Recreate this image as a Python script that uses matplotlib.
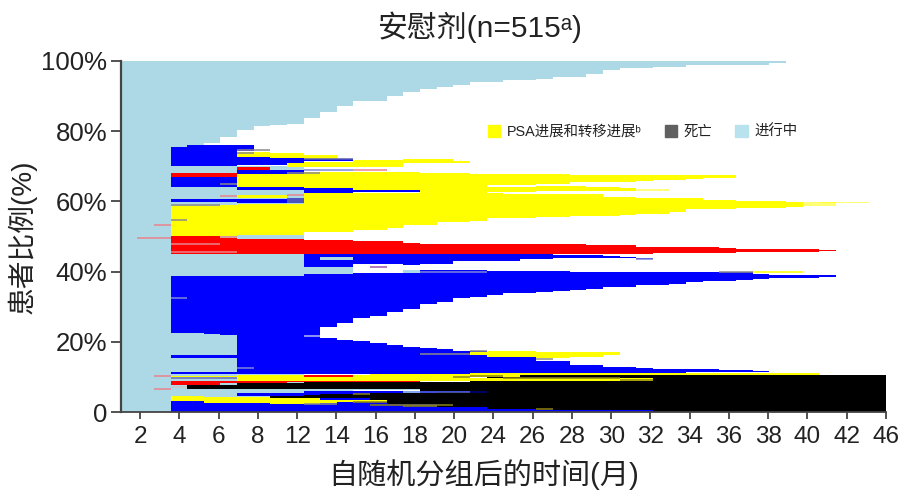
import numpy as np
import matplotlib
matplotlib.use("Agg")
from matplotlib import pyplot as plt
from matplotlib.patches import Patch

plt.rcParams['font.family'] = ['Liberation Sans', 'Noto Sans CJK SC', 'DejaVu Sans']

BLUE = '#0000ff'
YELLOW = '#ffff00'
RED = '#ff0000'
BLACK = '#000000'
LIGHT = '#add8e6'
PINK = '#e8848c'
GRAY = '#8a8a8a'
LAV = '#7f86d8'
GOLD = '#8c8414'

tick_labels = ['2', '4', '6', '8', '12', '14', '16', '18', '20', '24', '26', '28',
               '30', '32', '34', '36', '38', '40', '42', '46']
y_ticks = [0, 20, 40, 60, 80, 100]
y_labels = ['0', '20%', '40%', '60%', '80%', '100%']

# everything below is percent of patients per treatment cycle
ongoing_edge = [75.8, 75.8, 76.7, 78.3, 80.2, 81.6, 81.8, 82, 83.8, 85.6, 87.2, 88.6, 88.6,
                90, 91.3, 92, 92.5, 93.2, 93.9, 93.9, 94.6, 94.6, 94.9, 95.5, 95.5, 96.3,
                97.4, 98.1, 98.1, 98.4, 98.4, 98.9, 98.9, 99, 99, 99, 99.5]
ongoing_fill = [76, 76, 76, 76, 70, 70, 70, 70]

lobe_hi = [38.75, 38.75, 38.75, 38.75, 38.75, 38.75, 38.75, 38.75, 39.3, 39.3, 39.3, 39.7, 39.7,
           39.7, 40.4, 40.4, 40.4, 40.4, 40.4, 40.2, 40.2, 40.2, 40.2, 40.2, 40, 40, 40, 40,
           39.8, 39.8, 39.8, 39.8, 39.8, 39.8, 39.8, 39.3, 39.1, 39.1, 39.1, 39.0]
lobe_lo = [22.4, 22.4, 22.2, 21.8, 10.8, 10.8, 10.8, 10.8, 10.8, 24.1, 25.3, 26.7, 27.4, 28.6,
           29.4, 30.7, 31.4, 32.4, 32.9, 33.3, 33.8, 34, 34.3, 34.6, 34.8, 35, 35.5, 35.7, 36.1,
           36.3, 36.5, 36.9, 37.2, 37.4, 37.5, 37.8, 38.2, 38.2, 38.2, 38.6]
lower_lobe_hi = [21.2, 20.5, 20.3, 19.6, 19.1, 18.6, 18.1, 17.9, 17.4, 17.4, 15.6, 15.6, 15.6, 14.4,
                 14.4, 13.4, 13.4, 12.9, 12.7, 12.4, 12.2, 12.2, 12.35, 12.35, 12, 12, 11.8]
lower_lobe_lo = [10.8, 10.8, 10.8, 10.8, 10.8, 10.8, 10.8, 10.8, 10.8, 10.9, 10.9, 10.9, 10.9, 11.2,
                 11.2, 11.2, 11.2, 11.2, 11.2, 11.2, 11.2, 11.2, 11.4, 11.4, 11.4, 11.4, 11.4]

red_hi = [50.1, 50.1, 50.1, 49.6, 49.2, 49.2, 49.2, 49.2, 49, 49, 49, 48.7, 48.7, 48.7, 48.2,
          48, 48, 48, 48, 48, 47.8, 47.8, 47.8, 47.8, 47.8, 47.6, 47.6, 47.6, 47.1, 47, 47, 47, 47,
          46.6, 46.4, 46.4, 46.4, 46.3, 46.3, 46.2]
red_lo = [45.1, 45.1, 45.1, 45.1, 45.1, 45.1, 45.1, 45.1, 45.1, 45.1, 45.1, 45.1, 45.1, 45.1, 45.1,
          45.1, 45.1, 45.1, 45.1, 45.1, 45.1, 45.1, 45.1, 45.1, 45.1, 45.1, 45.1, 45.1, 45.1,
          45.2, 45.2, 45.2, 45.2, 45.2, 45.5, 45.5, 45.5, 45.7, 45.7, 45.8]

yellow_main_hi = [58.7, 58.7, 58.7, 59, 59.3, 59.3, 59.3, 59.3, 62.3, 62.3, 62.3, 62.3, 62.3, 62.3,
                  62.3, 62.3, 62.3, 62.3, 62.3, 62.3, 62, 62, 62, 62, 62, 62, 61.2, 61.2, 60.9,
                  60.9, 60.9, 60.9, 60.4, 60.4, 60.1, 60.1, 60.1, 59.7]
yellow_main_lo = [50.1, 50.1, 50.1, 50.1, 50.4, 50.4, 50.4, 50.4, 51.4, 51.4, 51.4, 51.9, 51.9, 52.3,
                  53.3, 53.3, 54, 54, 54.5, 55.2, 55.2, 55.2, 55.5, 55.5, 55.8, 55.8, 55.9, 56.1,
                  56.4, 56.4, 57.1, 57.7, 57.7, 57.7, 58.2, 58.2, 58.2, 58.5]
yellow_up_hi = [67.8, 67.8, 67.8, 67.8, 68.5, 68.5, 68.5, 68.5, 68.5, 68.5, 68.5, 68.2, 68, 68,
                67.8, 67.8, 67.8, 67.8, 67.8, 67.8, 67.5, 67.5, 67.5, 67.5, 67.5, 67.5, 67.5,
                67.5, 67.5, 67.5]
yellow_up_lo = [64.2, 64.2, 64.2, 64.2, 63.7, 63.7, 63.7, 63.2, 63.2, 63.2, 63.2, 62.3, 62.3, 62.3,
                62.3, 64.7, 64.7, 64.7, 65, 65, 65.4, 65.4, 65.6, 65.6, 65.9, 66.1, 66.1, 66.3,
                66.6, 66.6]
yellow_mid_hi = [64.2, 64.2, 64.2, 64.4, 64.4, 64.4, 64, 64, 63.7]
yellow_mid_lo = [62.8, 62.8, 62.8, 63, 63, 63, 63, 63, 63]
yellow_a_hi = [74, 74, 73.7, 73.7, 73.2, 73.2]
yellow_a_lo = [72.7, 72.7, 72.3, 72.3, 71.9, 71.9]
yellow_b_hi = [70.8, 71.2, 71.2, 71.2, 71.8, 71.8, 71.8, 72, 72, 72, 71.6]
yellow_b_lo = [69.9, 69.9, 69.9, 69.9, 69.9, 69.9, 69.9, 70.8, 70.8, 70.8, 71]
yellow_low_hi = [17, 17.4, 17.4, 17.4, 17.1, 17.1, 17, 17, 17.2]
yellow_low_lo = [16.2, 15.6, 15.6, 15.6, 15.4, 15.4, 15.6, 15.6, 16.2]
yellow_strip_hi = [10.5, 10.5, 10.5, 10.5, 10, 10, 10, 10.5, 10.7, 10.7, 10.7, 10.7, 10.7, 10.7,
                   11, 11, 11, 11, 11, 11, 11.2, 11.2, 11.2, 11.2, 11.2, 11.2, 11.2,
                   11.1, 11.1, 11.1, 11.1, 11.1, 11.1, 11.1, 11.1]
yellow_strip_lo = [8.8, 8.8, 8.8, 8.8, 8.8, 8.8, 8.8, 8.8, 8.8, 8.8, 8.8, 8.8, 8.8, 8.8,
                   10, 10, 10, 10.6, 10.6, 10.6, 10.6, 10.6, 10.6, 10.6, 10.6, 10.6, 10.6,
                   10.6, 10.6, 10.6, 10.6, 10.6, 10.6, 10.6, 10.6]
yellow_diag_hi = [4.56, 4.56, 4.37, 4.37, 4.37, 4.37, 3.9, 3.9, 3.9, 3.4, 3.4, 3.4, 3.4]
yellow_diag_lo = [3.23, 3.23, 2.66, 2.66, 2.66, 2.47, 2.28, 2.19, 2.19, 2.47, 2.76, 2.76, 2.76]

blue_a_hi = [75.6, 76, 76, 76, 76]
blue_a_lo = [70.1, 70.1, 70.1, 70.1, 74.4]
blue_b_hi = [72.7, 72.7, 72.3, 72.3]
blue_b_lo = [70.4, 70.4, 70.5, 70.8]
blue_d_hi = [64.2, 64.2, 64.2, 64.2, 63.7, 63.7, 63.7, 63.2, 63.2, 63.2, 63.2]
blue_d_lo = [63.2, 63.2, 63.2, 63.2, 62.3, 62.3, 62.3, 62.6, 62.6, 62.6, 62.6]
blue_upper_hi = [45, 45, 45, 45, 45, 45, 45, 45, 45, 45, 45, 45, 45, 45, 45, 44.8, 44.8, 44.8, 44.4,
                 44.2, 44]
blue_upper_lo = [41.2, 41.2, 41.2, 42.1, 42.1, 42.1, 42, 42.3, 42.3, 43, 43, 43, 43, 43.5, 43.5,
                 43.8, 43.8, 43.8, 43.8, 43.8, 43.5]
blue_bottom_hi = [3.2, 3.2, 2.7, 2.7, 2.7, 2.5, 2.3, 2.2, 6, 6, 6, 6, 6, 6, 6, 6, 6, 6, 6,
                  1, 1, 1, 0.6, 0.6, 0.6, 0.6, 0.6, 0.6, 0.6]

black_a_hi = [7.7, 7.7, 7.7, 8.2, 8.2, 8.2, 8.2, 8.5, 8.5, 8.5, 8.5, 8.5, 8.5, 8.5, 8.5, 8.5, 8.5, 8.9]
black_a_lo = [6.5, 6.5, 6.5, 6.5, 6.5, 6.5, 6.5, 6.5, 6.5, 6.5, 6.5, 6.5, 6.5, 6.5, 6, 6, 6, 5.6]
black_b_hi = [4.6, 4.6, 4.9, 5, 5, 5, 5.3, 5.3, 5.3, 5.3, 5.8, 5.8, 5.8]
black_b_lo = [3.9, 3.9, 4, 4.1, 4.1, 4.1, 3, 2.2, 2.2, 2.2, 1.5, 1.5, 1.5]
black_main_hi = [10, 10, 10.6, 10.6, 10.6, 10.6, 10.6, 10.6, 10.6, 10.6, 10.5, 10.5, 10.5, 10.5,
                 10.5, 10.5, 10.5, 10.5, 10.5, 10.5, 10.5, 10.5, 10.5, 10.5]
black_main_lo = [0.9, 0.9, 0.9, 0.6, 0.6, 0.6, 0.6, 0.6, 0.6, 0.6, 0, 0, 0, 0, 0, 0, 0, 0, 0, 0,
                 0, 0, 0, 0]

# (start cycle, highs, lows, colour, alpha) for the short blocks and tails
small_bands = [
    (0, [68, 68, 68, 68], [66.9, 66.9, 66.9, 66.9], RED, 1),
    (0, [66.9, 66.9, 66.9, 66.9], [64.2, 64.2, 64.2, 64.2], BLUE, 1),
    (4, [69.7, 69.7], [68.9, 68.9], RED, 1),
    (4, [68.9, 68.9, 68.9, 68.9], [67.8, 67.8, 67.8, 67.8], BLUE, 1),
    (8, [72, 72, 72], [71.4, 71.4, 71.4], BLUE, 1),
    (4, [61.8, 61.8, 61.8], [60.9, 60.9, 60.9], YELLOW, 1),
    (4, [60.6, 60.6, 60.6], [59.5, 59.5, 59.5], BLUE, 1),
    (7, [60.9], [59.5], '#4a55c0', 1),
    (0, [60.6, 60.6, 60.6, 60.6], [59.7, 59.7, 59.7, 59.7], BLUE, 1),
    (38, [59.7, 59.7], [58.7, 58.7], YELLOW, 0.55),
    (39, [59.9, 59.9, 59.9], [59.6, 59.6, 59.6], YELLOW, 0.55),
    (28, [63.4, 63.4], [63, 63], YELLOW, 0.5),
    (8, [41.2, 41.2, 41.2], [39.3, 39.3, 39.3], LIGHT, 1),
    (9, [44.2, 44.2], [43.4, 43.4], LIGHT, 1),
    (14, [40.4], [39.7], LIGHT, 1),
    (0, [16.2, 16.2, 16.2, 16.2], [15.5, 15.5, 15.5, 15.5], BLUE, 1),
    (0, [11.3, 11.3, 11.3, 11.3], [10.7, 10.7, 10.7, 10.7], BLUE, 1),
    (0, [10.3, 10.3, 10.3, 10.3], [9.9, 9.9, 9.9, 9.9], YELLOW, 1),
    (0, [8.8, 8.8, 8.8, 8.7], [7.7, 7.7, 7.7, 8.2], RED, 1),
    (4, [8.8, 8.8, 8.8, 8.8, 8.8, 8.8, 8.8, 8.8, 8.8, 8.8, 8.8],
        [8.2, 8.2, 8.2, 8.5, 8.5, 8.5, 8.5, 8.5, 8.5, 8.5, 8.5], RED, 1),
    (8, [10.5, 10.5, 10.5], [10, 10, 10], RED, 1),
    (4, [5.5, 5.5, 5.5, 5.5], [4.6, 4.6, 4.6, 4.6], BLUE, 1),
    (8, [6.5, 6.5, 6.5, 6.5, 6.5, 6.5, 6.5], [6, 6, 6, 6.2, 6.2, 6.2, 6.2], LIGHT, 1),
    (18, [9.7, 9.7, 9.7, 9.7, 9.7, 9.7, 9.7, 9.7, 9.7, 9.7, 9.7],
         [8.9, 8.9, 8.9, 8.9, 8.9, 8.9, 8.9, 8.9, 8.9, 8.9, 8.9], YELLOW, 1),
]

# thin single patient rows: (y, from cycle, to cycle, colour)
thin_rows = [
    (53.4, -1, 0, PINK), (49.7, -2, 0, PINK), (10.2, -1, 0, PINK), (6.6, -1, 0, PINK),
    (49.8, 3, 4, PINK), (47.8, 0, 3, PINK), (45.5, 0, 4, PINK), (61.6, 3, 4, PINK),
    (61.8, 7, 8, PINK), (68.9, 11, 13, PINK), (41.2, 12, 13, '#a050b0'),
    (74.6, 4, 6, GRAY), (73.9, 4, 5, GRAY), (64.9, 3, 4, GRAY), (54.6, 0, 1, GRAY),
    (59, 0, 3, GRAY), (68.2, 7, 9, GRAY), (68.9, 8, 11, LAV), (72, 8, 11, '#5a5fb0'),
    (32.4, 0, 1, LAV), (21.7, 8, 9, '#b8b8f0'), (12.5, 4, 5, LAV), (9.6, 0, 4, '#6a6fb0'),
    (7.2, 0, 1, '#c8c8c8'), (16.5, 15, 18, GRAY), (17.5, 18, 19, GRAY), (15, 22, 23, GRAY),
    (39.9, 15, 19, LAV), (43.7, 28, 29, LAV), (39.9, 33, 35, GRAY), (40.0, 35, 38, YELLOW),
    (5.8, 14, 15, LIGHT), (5.8, 15, 18, '#5566cc'), (5.7, 18, 19, '#000080'),
    (2, 12, 17, GOLD), (2.9, 11, 13, GOLD), (5.1, 11, 12, GOLD), (2.2, 8, 10, GRAY),
    (9.9, 17, 18, GOLD), (10.3, 18, 20, GOLD), (9.6, 20, 27, GOLD), (9.1, 27, 29, GOLD),
    (1.7, 14, 16, GOLD), (0.9, 22, 23, GOLD),
]


def band(start, lo, hi, color, alpha=1):
    x = np.arange(start, start + len(lo) + 1)
    ax.fill_between(x, lo + [lo[-1]], hi + [hi[-1]], step='post', color=color,
                    linewidth=0, alpha=alpha)


fig = plt.figure(figsize=(9.07, 4.95), dpi=100)
ax = fig.add_axes([121 / 907, 83 / 495, 765 / 907, 351 / 495])

# ongoing patients first, the rest is painted over them
ax.axvspan(-3, 0, color=LIGHT, linewidth=0)
band(0, ongoing_edge, [100] * len(ongoing_edge), LIGHT)
band(0, [0] * len(ongoing_fill), ongoing_fill, LIGHT)

band(0, lobe_lo, lobe_hi, BLUE)
band(9, lower_lobe_lo, lower_lobe_hi, BLUE)
band(8, blue_upper_lo, blue_upper_hi, BLUE)
band(0, [0] * len(blue_bottom_hi), blue_bottom_hi, BLUE)
band(0, blue_a_lo, blue_a_hi, BLUE)
band(4, blue_b_lo, blue_b_hi, BLUE)
band(19, black_main_lo, black_main_hi, BLACK)
band(1, black_a_lo, black_a_hi, BLACK)
band(6, black_b_lo, black_b_hi, BLACK)

band(0, yellow_main_lo, yellow_main_hi, YELLOW)
band(4, yellow_up_lo, yellow_up_hi, YELLOW)
band(19, yellow_mid_lo, yellow_mid_hi, YELLOW)
band(4, yellow_a_lo, yellow_a_hi, YELLOW)
band(7, yellow_b_lo, yellow_b_hi, YELLOW)
band(18, yellow_low_lo, yellow_low_hi, YELLOW)
band(4, yellow_strip_lo, yellow_strip_hi, YELLOW)
band(0, yellow_diag_lo, yellow_diag_hi, YELLOW)
band(0, red_lo, red_hi, RED)
band(4, blue_d_lo, blue_d_hi, BLUE)

for start, hi, lo, color, alpha in small_bands:
    band(start, lo, hi, color, alpha)

for y, x0, x1, color in thin_rows:
    ax.plot([x0, x1], [y, y], color=color, linewidth=1.1, solid_capstyle='butt')

ax.set_xlim(-2.98, 43.02)
ax.set_ylim(0, 100)
ax.set_xticks(np.linspace(-1.83, 43.02, len(tick_labels)))
ax.set_xticklabels(tick_labels, fontsize=17.5, color='#222222')
ax.set_yticks(y_ticks)
ax.set_yticklabels(y_labels, fontsize=18.5, color='#222222')
ax.tick_params(axis='x', length=5, width=1.3, color='#444444', pad=5)
ax.tick_params(axis='y', length=7, width=1.3, color='#444444', pad=3)
ax.spines['top'].set_visible(False)
ax.spines['right'].set_visible(False)
ax.spines['left'].set_linewidth(1.6)
ax.spines['left'].set_color('#444444')
ax.spines['bottom'].set_linewidth(1.3)
ax.spines['bottom'].set_color('#444444')

handles = [Patch(color=YELLOW), Patch(color='#606060'), Patch(color='#b8e2ee')]
names = ['PSA进展和转移进展ᵇ', '死亡', '进行中']
fig.legend(handles, names, ncol=3, frameon=False, fontsize=10.4, loc='center left',
           bbox_to_anchor=(475 / 907, 1 - 132 / 495), handlelength=0.85, handleheight=0.85,
           handletextpad=0.45, columnspacing=1.6, labelcolor='#222222')

fig.text(480 / 907, 1 - 27 / 495, '安慰剂(n=515ᵃ)', fontsize=21.5, ha='center', va='center',
         color='#222222')
fig.text(484 / 907, 1 - 475 / 495, '自随机分组后的时间(月)', fontsize=21, ha='center', va='center',
         color='#222222')
fig.text(22 / 907, 1 - 237 / 495, '患者比例(%)', fontsize=20, rotation=90, ha='center', va='center',
         color='#222222')

fig.savefig('out.png', dpi=100)
